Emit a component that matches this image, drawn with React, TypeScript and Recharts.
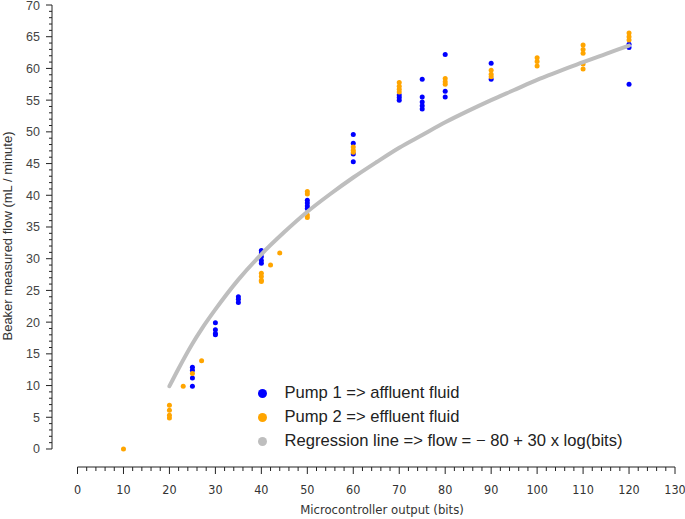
import React from 'react';
import { ComposedChart, Scatter, XAxis, YAxis, ReferenceLine, Legend } from 'recharts';

// Pump 1 (affluent) measurements
const pump1Bits = [25, 25, 25, 25, 30, 30, 30, 30, 35, 35, 35, 40, 40, 40, 40, 40, 50, 50, 50, 50, 60, 60, 60, 60, 70, 70, 70, 75, 75, 75, 75, 75, 80, 80, 80, 90, 90, 120, 120, 120];
const pump1Flow = [12.9, 12.4, 11.2, 9.9, 19.9, 18.8, 18.2, 18.0, 24.0, 23.6, 23.1, 31.3, 30.9, 30.3, 29.7, 29.3, 39.2, 38.8, 38.3, 37.9, 49.6, 48.2, 46.5, 45.3, 55.8, 55.4, 55.0, 58.3, 55.5, 54.7, 54.1, 53.6, 62.2, 56.4, 55.5, 60.8, 58.3, 63.8, 63.3, 57.5];

// Pump 2 (effluent) measurements
const pump2Bits = [10, 20, 20, 20, 20, 23, 25, 27, 40, 40, 40, 40, 42, 44, 50, 50, 50, 50, 60, 60, 60, 70, 70, 70, 70, 80, 80, 80, 90, 90, 90, 100, 100, 100, 110, 110, 110, 110, 110, 120, 120, 120];
const pump2Flow = [0, 6.9, 6.1, 5.3, 4.9, 9.9, 11.9, 13.9, 27.7, 27.2, 26.6, 26.4, 29.0, 30.9, 40.6, 40.2, 36.9, 36.5, 47.6, 47.1, 46.8, 57.8, 57.2, 56.7, 56.3, 58.4, 57.9, 57.5, 59.7, 59.1, 58.7, 61.7, 61.1, 60.4, 63.7, 63.0, 62.4, 60.7, 59.9, 65.6, 65.0, 64.5];

// Regression line
const regBits = [20, 22, 25, 27, 30, 35, 40, 45, 50, 55, 60, 65, 70, 75, 80, 85, 90, 95, 100, 105, 110, 115, 120];
const regFlow = [9.9, 12.7, 16.6, 18.9, 22.0, 26.7, 30.7, 34.2, 37.4, 40.2, 42.8, 45.2, 47.5, 49.5, 51.5, 53.3, 55.0, 56.6, 58.2, 59.6, 61.0, 62.3, 63.6];

const xMajorTicks = [0, 10, 20, 30, 40, 50, 60, 70, 80, 90, 100, 110, 120, 130];
const yMajorTicks = [0, 5, 10, 15, 20, 25, 30, 35, 40, 45, 50, 55, 60, 65, 70];
const xMinorStep = 2;
const yMinorStep = 1;

const legendItems = [
  { label: 'Pump 1 => affluent fluid', color: '#0000FF' },
  { label: 'Pump 2 => effluent fluid', color: '#FFA500' },
  { label: 'Regression line => flow = \u2212 80 + 30 x log(bits)', color: '#BEBEBE' },
];

const pump1 = pump1Bits.map((x, i) => ({ x, y: pump1Flow[i] }));
const pump2 = pump2Bits.map((x, i) => ({ x, y: pump2Flow[i] }));
const regression = regBits.map((x, i) => ({ x, y: regFlow[i] }));

const X_MIN = -5.55;
const Y_MIN = -2.84;
const xTicks: number[] = [];
for (let v = 0; v <= 130; v += xMinorStep) xTicks.push(v);
const yTicks: number[] = [];
for (let v = 0; v <= 70; v += yMinorStep) yTicks.push(v);

const narrow = "'Liberation Sans Narrow', 'DejaVu Sans Condensed', Arial, sans-serif";
const sans = "'Liberation Sans', Arial, sans-serif";

const XTick = (props: any) => {
  const { x, y, payload } = props;
  const major = xMajorTicks.includes(payload.value);
  return (
    <g>
      <line x1={x} x2={x} y1={y} y2={y + (major ? 7 : 4)} stroke="#222" strokeWidth={1} />
      {major && (
        <text x={x} y={y + 27} textAnchor="middle" fontSize={12.5} fontFamily={narrow} fill="#333">
          {payload.value}
        </text>
      )}
    </g>
  );
};

const YTick = (props: any) => {
  const { x, y, payload } = props;
  const major = yMajorTicks.includes(payload.value);
  return (
    <g>
      <line x1={x} x2={x - (major ? 6 : 3)} y1={y} y2={y} stroke="#222" strokeWidth={1} />
      {major && (
        <text x={x - 12} y={y} dy="0.36em" textAnchor="end" fontSize={12.5} fontFamily={sans} fill="#444">
          {payload.value}
        </text>
      )}
    </g>
  );
};

const Dot = (color: string) => (props: any) => (
  <circle cx={props.cx} cy={props.cy} r={2.5} fill={color} />
);

const LegendContent = () => (
  <div style={{ fontFamily: sans, fontSize: 16.6, color: '#222' }}>
    {legendItems.map((it) => (
      <div key={it.label} style={{ display: 'flex', alignItems: 'center', height: 24.2, whiteSpace: 'nowrap' }}>
        <span style={{ display: 'inline-block', width: 9, height: 9, borderRadius: '50%', background: it.color, marginRight: 17.5 }} />
        <span>{it.label}</span>
      </div>
    ))}
  </div>
);

export default function App() {
  return (
    <div style={{ position: 'absolute', left: 0, top: 0 }}>
      <ComposedChart width={685} height={519} margin={{ top: 5, right: 10, left: 0, bottom: 0 }}>
        <XAxis
          type="number"
          dataKey="x"
          domain={[X_MIN, 130]}
          ticks={xTicks}
          interval={0}
          allowDataOverflow
          axisLine={false}
          tickLine={false}
          tickSize={0}
          tickMargin={0}
          height={52}
          tick={(p: any) => <XTick {...p} />}
          label={{
            content: () => (
              <text x={382} y={514} textAnchor="middle" fontSize={13} fontFamily={narrow} fill="#333">
                Microcontroller output (bits)
              </text>
            ),
          }}
        />
        <YAxis
          type="number"
          dataKey="y"
          domain={[Y_MIN, 70]}
          ticks={yTicks}
          interval={0}
          allowDataOverflow
          axisLine={false}
          tickLine={false}
          tickSize={0}
          tickMargin={0}
          width={52}
          tick={(p: any) => <YTick {...p} />}
          label={{
            content: () => (
              <text x={11.5} y={236} transform="rotate(-90 11.5 236)" textAnchor="middle" fontSize={13} fontFamily={sans} fill="#333">
                Beaker measured flow (mL / minute)
              </text>
            ),
          }}
        />
        <ReferenceLine segment={[{ x: 0, y: Y_MIN }, { x: 130, y: Y_MIN }]} stroke="#222" strokeWidth={1} ifOverflow="visible" />
        <ReferenceLine segment={[{ x: X_MIN, y: 0 }, { x: X_MIN, y: 70 }]} stroke="#222" strokeWidth={1} ifOverflow="visible" />
        <Scatter name="Pump 1" data={pump1} dataKey="y" fill="#0000FF" shape={Dot('#0000FF')} isAnimationActive={false} />
        <Scatter name="Pump 2" data={pump2} dataKey="y" fill="#FFA500" shape={Dot('#FFA500')} isAnimationActive={false} />
        <Scatter
          name="Regression"
          data={regression}
          dataKey="y"
          fill="#BEBEBE"
          line={{ stroke: '#BEBEBE', strokeWidth: 4, strokeLinecap: 'round' } as any}
          lineJointType="monotoneX"
          shape={() => <g />}
          isAnimationActive={false}
        />
        <Legend
          layout="vertical"
          align="center"
          verticalAlign="middle"
          content={() => <LegendContent />}
          wrapperStyle={{ position: 'absolute', left: 258, top: 381, width: 'auto', bottom: 'auto', right: 'auto' }}
        />
      </ComposedChart>
    </div>
  );
}
